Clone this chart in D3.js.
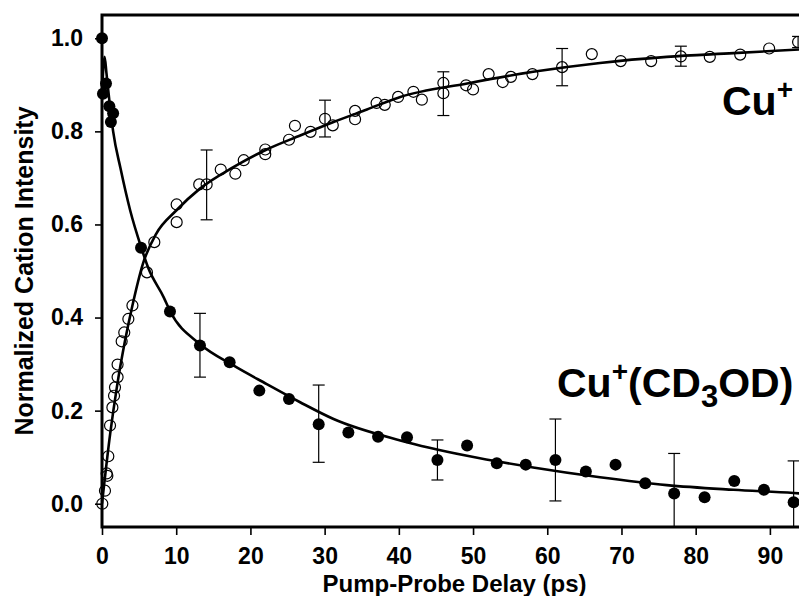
<!DOCTYPE html>
<html>
<head>
<meta charset="utf-8">
<script src="https://cdn.jsdelivr.net/npm/d3@7"></script>
<style>
  body { margin: 0; background: #fff; }
  svg text { font-family: "Liberation Sans", Arial, sans-serif; font-weight: bold; }
</style>
</head>
<body>
<div id="graph"></div>
<script>
// Cu+ (open circles): delay (ps) and normalized intensity
const cuT = [0.04, 0.4, 0.63, 0.72, 0.85, 1.08, 1.4, 1.62, 1.75, 2.1, 2.1, 2.65, 3.0, 3.55, 4.1,
  6.06, 7.05, 10.06, 10.06, 13.1, 14.1, 16.0, 17.97, 19.1, 22.0, 22.0, 25.2, 26.0, 28.1, 30.05,
  31.1, 34.1, 34.1, 37.0, 38.1, 39.9, 41.96, 43.1, 46.0, 46.0, 49.06, 50.0, 52.1, 54.0, 55.1,
  58.0, 62.0, 66.0, 69.9, 74.0, 78.0, 81.9, 86.0, 89.9, 93.8];
const cuV = [0.0, 0.028, 0.065, 0.06, 0.102, 0.168, 0.207, 0.232, 0.25, 0.272, 0.299, 0.349, 0.368, 0.397, 0.426,
  0.497, 0.562, 0.643, 0.605, 0.686, 0.686, 0.718, 0.709, 0.738, 0.761, 0.751, 0.782, 0.812, 0.799, 0.827,
  0.813, 0.844, 0.826, 0.861, 0.857, 0.874, 0.885, 0.868, 0.904, 0.882, 0.899, 0.89, 0.923, 0.906, 0.917,
  0.923, 0.938, 0.966, 0.951, 0.951, 0.961, 0.96, 0.965, 0.978, 0.992];

// Cu+(CD3OD) (filled circles)
const cplxT = [0, 0.13, 0.54, 0.99, 1.2, 1.5, 5.26, 9.16, 13.2, 17.2, 21.2, 25.2, 29.2, 33.2, 37.2,
  41.1, 45.2, 49.2, 53.2, 57.1, 61.1, 65.2, 69.2, 73.2, 77.1, 81.2, 85.2, 89.2, 93.2];
const cplxV = [1.0, 0.881, 0.903, 0.854, 0.82, 0.839, 0.55, 0.413, 0.34, 0.304, 0.243, 0.225, 0.171, 0.153, 0.144,
  0.143, 0.094, 0.125, 0.087, 0.084, 0.094, 0.069, 0.084, 0.044, 0.022, 0.014, 0.049, 0.03, 0.003];

// error bars: delay, low, high
const cuErrT = [14.1, 30.05, 46.0, 62.0, 78.0, 93.8];
const cuErrLo = [0.61, 0.788, 0.834, 0.898, 0.94, 0.98];
const cuErrHi = [0.76, 0.867, 0.928, 0.978, 0.983, 1.004];
const cplxErrT = [13.2, 29.2, 45.2, 61.1, 77.1, 93.2];
const cplxErrLo = [0.272, 0.089, 0.051, 0.006, -0.064, -0.086];
const cplxErrHi = [0.409, 0.255, 0.137, 0.182, 0.108, 0.092];

// fit curves
const cuFitT = [0, 1.1, 2.0, 3.1, 4.1, 5.5, 7.3, 10.0, 13.2, 17.7, 22.2, 26.7, 31.2, 35.7, 40.2,
  49.2, 58.1, 67.1, 76.1, 85.1, 93.9, 95];
const cuFitV = [0, 0.15, 0.25, 0.35, 0.426, 0.515, 0.58, 0.63, 0.677, 0.723, 0.761, 0.791, 0.82, 0.847, 0.874,
  0.903, 0.928, 0.947, 0.96, 0.968, 0.976, 0.977];
const cplxFitT = [0, 0.35, 0.6, 1.0, 1.5, 2.5, 3.8, 5.3, 6.2, 8.3, 9.2, 13.2, 17.7, 22.2, 26.7, 31.2,
  40.2, 49.2, 58.1, 67.1, 76.1, 85.1, 93.2, 95];
const cplxFitV = [0.88, 0.96, 0.925, 0.865, 0.8, 0.72, 0.63, 0.55, 0.508, 0.444, 0.413, 0.343, 0.297, 0.257, 0.218, 0.182,
  0.136, 0.103, 0.078, 0.057, 0.04, 0.03, 0.023, 0.021];

const xTicks = [0, 10, 20, 30, 40, 50, 60, 70, 80, 90];
const yTicks = [0.0, 0.2, 0.4, 0.6, 0.8, 1.0];

const width = 799, height = 596;
const margin = { top: 15, left: 102, bottom: 69 };
const plotRight = 807;

const svg = d3.select("#graph").append("svg")
  .attr("width", width)
  .attr("height", height);

const x = d3.scaleLinear().domain([0, 95]).range([margin.left, plotRight]);
const y = d3.scaleLinear().domain([-0.05, 1.05]).range([height - margin.bottom, margin.top]);

svg.append("clipPath").attr("id", "plot")
  .append("rect")
  .attr("x", margin.left).attr("y", margin.top)
  .attr("width", plotRight - margin.left)
  .attr("height", y(-0.05) - margin.top);

const zip = (ts, vs) => ts.map((t, i) => ({ t, v: vs[i] }));

const line = d3.line()
  .curve(d3.curveMonotoneX)
  .x(d => x(d.t))
  .y(d => y(d.v));

const plot = svg.append("g").attr("clip-path", "url(#plot)");

[zip(cuFitT, cuFitV), zip(cplxFitT, cplxFitV)].forEach(pts => {
  plot.append("path")
    .attr("d", line(pts))
    .attr("fill", "none")
    .attr("stroke", "#000")
    .attr("stroke-width", 2.6);
});

// error bars
function errorBars(ts, lo, hi) {
  const g = plot.append("g").attr("stroke", "#000").attr("stroke-width", 1.2);
  ts.forEach((t, i) => {
    g.append("line").attr("x1", x(t)).attr("x2", x(t)).attr("y1", y(lo[i])).attr("y2", y(hi[i]));
    [lo[i], hi[i]].forEach(v => {
      g.append("line").attr("x1", x(t) - 6).attr("x2", x(t) + 6).attr("y1", y(v)).attr("y2", y(v));
    });
  });
}
errorBars(cuErrT, cuErrLo, cuErrHi);
errorBars(cplxErrT, cplxErrLo, cplxErrHi);

// markers
svg.append("g").selectAll("circle")
  .data(zip(cuT, cuV))
  .join("circle")
  .attr("cx", d => x(d.t))
  .attr("cy", d => y(d.v))
  .attr("r", 5.5)
  .attr("fill", "none")
  .attr("stroke", "#000")
  .attr("stroke-width", 1.2);

svg.append("g").selectAll("circle")
  .data(zip(cplxT, cplxV))
  .join("circle")
  .attr("cx", d => x(d.t))
  .attr("cy", d => y(d.v))
  .attr("r", 6)
  .attr("fill", "#000");

// axes
const xAxis = svg.append("g")
  .attr("transform", `translate(0,${y(-0.05)})`)
  .call(d3.axisBottom(x).tickValues(xTicks).tickSize(8).tickPadding(13).tickFormat(d3.format("d")));
const yAxis = svg.append("g")
  .attr("transform", `translate(${margin.left},0)`)
  .call(d3.axisLeft(y).tickValues(yTicks).tickSize(7).tickPadding(12).tickFormat(d3.format(".1f")));

[xAxis, yAxis].forEach(a => {
  a.select(".domain").remove();
  a.selectAll(".tick line").attr("stroke", "#000").attr("stroke-width", 1.6);
  a.selectAll(".tick text").attr("font-size", 23).attr("font-family", null).attr("fill", "#000");
});

// frame
svg.append("path")
  .attr("d", `M${margin.left},${y(-0.05)}V${margin.top}H${plotRight}V${y(-0.05)}Z`)
  .attr("fill", "none")
  .attr("stroke", "#000")
  .attr("stroke-width", 3);

// axis titles
svg.append("text")
  .attr("x", (margin.left + plotRight) / 2)
  .attr("y", 592)
  .attr("text-anchor", "middle")
  .attr("font-size", 24)
  .text("Pump-Probe Delay (ps)");

svg.append("text")
  .attr("transform", `translate(33,${(margin.top + y(-0.05)) / 2}) rotate(-90)`)
  .attr("text-anchor", "middle")
  .attr("font-size", 25)
  .text("Normalized Cation Intensity");

// species labels
const lab1 = svg.append("text").attr("x", 722).attr("y", 115).attr("font-size", 41);
lab1.append("tspan").text("Cu");
lab1.append("tspan").attr("font-size", 28).attr("dy", -16).text("+");

const lab2 = svg.append("text").attr("x", 557).attr("y", 397).attr("font-size", 41);
lab2.append("tspan").text("Cu");
lab2.append("tspan").attr("font-size", 28).attr("dy", -16).text("+");
lab2.append("tspan").attr("dy", 16).text("(CD");
lab2.append("tspan").attr("font-size", 31).attr("dy", 10).text("3");
lab2.append("tspan").attr("dy", -10).text("OD)");
</script>
</body>
</html>
